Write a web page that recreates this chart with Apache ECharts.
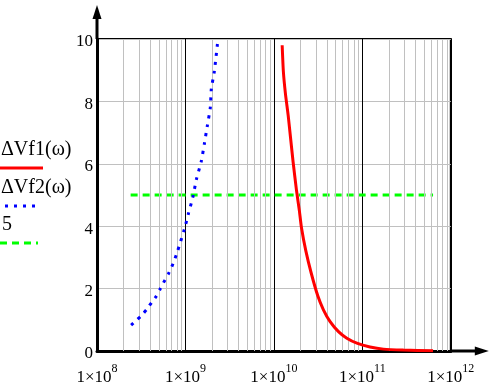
<!DOCTYPE html>
<html>
<head>
<meta charset="utf-8">
<script src="https://cdn.jsdelivr.net/npm/echarts@6/dist/echarts.min.js"></script>
<style>
html,body{margin:0;padding:0;background:#fff;}
#c{width:499px;height:388px;}
</style>
</head>
<body>
<div id="c"></div>
<script>
// ---- data ----
const xTicks = [1e8, 1e9, 1e10, 1e11, 1e12];
const yTicks = [0, 2, 4, 6, 8, 10];
const decades = [1e8, 1e9, 1e10, 1e11];
const minorMultipliers = [2, 3, 4, 5, 6, 7, 8, 9];

const vf1Omega = [1.24e10, 1.28e10, 1.35e10, 1.45e10, 1.54e10, 1.65e10, 1.80e10, 1.94e10, 2.05e10, 2.30e10, 2.64e10, 3.14e10, 3.63e10, 4.32e10, 5.37e10, 6.68e10, 8.67e10, 1.22e11, 1.73e11, 2.92e11, 6.3e11];
const vf1Values = [9.80, 8.95, 8.25, 7.55, 6.85, 6.05, 5.15, 4.50, 3.95, 3.20, 2.50, 1.76, 1.32, 0.94, 0.62, 0.41, 0.25, 0.13, 0.06, 0.03, 0.01];

const vf2Omega = [2.43e8, 2.78e8, 3.17e8, 3.71e8, 4.16e8, 4.69e8, 5.16e8, 5.62e8, 6.41e8, 6.93e8, 7.49e8, 8.10e8, 9.72e8, 1.08e9, 1.21e9, 1.33e9, 1.51e9, 1.64e9, 1.77e9, 1.91e9, 1.96e9, 2.12e9, 2.30e9];
const vf2Values = [0.83, 0.98, 1.13, 1.36, 1.56, 1.76, 1.98, 2.18, 2.47, 2.67, 2.91, 3.18, 3.90, 4.40, 4.92, 5.50, 6.08, 6.66, 7.23, 7.80, 8.39, 8.96, 9.84];

const constOmega = [2.4e8, 6.3e11];
const constValues = [5, 5];

const legendNames = ['\u0394Vf1(\u03c9)', '\u0394Vf2(\u03c9)', '5'];
// ---------------------------------------

const serif = '"Liberation Serif","Times New Roman",serif';
const zip = (xs, ys) => xs.map((x, i) => [x, ys[i]]);
const minorGrid = [];
decades.forEach(d => minorMultipliers.forEach(m => minorGrid.push(d * m)));

const chart = echarts.init(document.getElementById('c'), null, {renderer: 'canvas'});

const option = {
  animation: false,
  backgroundColor: '#fff',
  grid: {
    left: 97, right: 48.2, top: 39, bottom: 37,
    outerBoundsMode: 'none', containLabel: false,
    show: true, borderColor: '#000', borderWidth: 2, backgroundColor: 'transparent'
  },
  xAxis: {
    type: 'log', logBase: 10, min: xTicks[0], max: xTicks[xTicks.length - 1],
    axisLine: {show: true, onZero: false, lineStyle: {color: '#000', width: 3}},
    axisTick: {show: false},
    splitLine: {show: true, lineStyle: {color: '#000', width: 1}},
    axisLabel: {
      margin: 16,
      showMinLabel: true, showMaxLabel: true,
      formatter: v => '{a|1\u00d710}{b|' + Math.round(Math.log10(v)) + '}',
      rich: {
        a: {fontFamily: serif, fontSize: 17, color: '#000', lineHeight: 22},
        b: {fontFamily: serif, fontSize: 12, color: '#000', lineHeight: 12, padding: [0, 0, 19, 0]}
      }
    }
  },
  yAxis: {
    type: 'value', min: yTicks[0], max: yTicks[yTicks.length - 1], interval: 2,
    axisLine: {show: true, onZero: false, lineStyle: {color: '#000', width: 3}},
    axisTick: {show: false},
    splitLine: {show: true, lineStyle: {color: '#c0c0c0', width: 1}},
    axisLabel: {margin: 4, fontFamily: serif, fontSize: 17, color: '#000', verticalAlign: 'top', lineHeight: 6}
  },
  series: [
    {
      type: 'line', data: [], z: 1, silent: true,
      markLine: {
        silent: true, symbol: ['none', 'none'], label: {show: false},
        lineStyle: {color: '#c0c0c0', width: 1, type: 'solid'},
        emphasis: {disabled: true},
        data: minorGrid.map(v => ({xAxis: v}))
      }
    },
    {
      name: legendNames[0], type: 'line', data: zip(vf1Omega, vf1Values), z: 5,
      showSymbol: false, smooth: 0.2,
      lineStyle: {color: '#ff0000', width: 3}
    },
    {
      name: legendNames[1], type: 'line', data: zip(vf2Omega, vf2Values), z: 5,
      showSymbol: false, smooth: 0.2,
      lineStyle: {color: '#0000ff', width: 3, type: [3, 6]}
    },
    {
      name: legendNames[2], type: 'line', data: zip(constOmega, constValues), z: 4,
      showSymbol: false,
      lineStyle: {color: '#00ff00', width: 3, type: [7, 5]}
    }
  ]
};
chart.setOption(option);

// axis arrows + Mathcad-style legend
const [x0, y0] = chart.convertToPixel({gridIndex: 0}, [xTicks[0], yTicks[0]]);
const [x1, y1] = chart.convertToPixel({gridIndex: 0}, [xTicks[xTicks.length - 1], yTicks[yTicks.length - 1]]);

chart.setOption({
  graphic: [
    {type: 'line', shape: {x1: x0, y1: y1, x2: x0, y2: y1 - 22}, style: {stroke: '#000', lineWidth: 3}},
    {type: 'polygon', shape: {points: [[x0 - 4.5, y1 - 20], [x0 + 4.5, y1 - 20], [x0, y1 - 34]]}, style: {fill: '#000'}},
    {type: 'line', shape: {x1: x1, y1: y0, x2: x1 + 26, y2: y0}, style: {stroke: '#000', lineWidth: 3}},
    {type: 'polygon', shape: {points: [[x1 + 24, y0 - 4.5], [x1 + 24, y0 + 4.5], [x1 + 38, y0]]}, style: {fill: '#000'}},

    {type: 'text', left: 1, top: 140, style: {text: legendNames[0], font: '20px ' + serif, fill: '#000'}},
    {type: 'line', shape: {x1: 0, y1: 168, x2: 43, y2: 168}, style: {stroke: '#ff0000', lineWidth: 3}},
    {type: 'text', left: 1, top: 178, style: {text: legendNames[1], font: '20px ' + serif, fill: '#000'}},
    {type: 'line', shape: {x1: 5, y1: 206, x2: 36, y2: 206}, style: {stroke: '#0000ff', lineWidth: 3, lineDash: [3, 6]}},
    {type: 'text', left: 2, top: 215, style: {text: legendNames[2], font: '20px ' + serif, fill: '#000'}},
    {type: 'line', shape: {x1: 0, y1: 243, x2: 38, y2: 243}, style: {stroke: '#00ff00', lineWidth: 3, lineDash: [7, 5]}}
  ]
});
</script>
</body>
</html>
